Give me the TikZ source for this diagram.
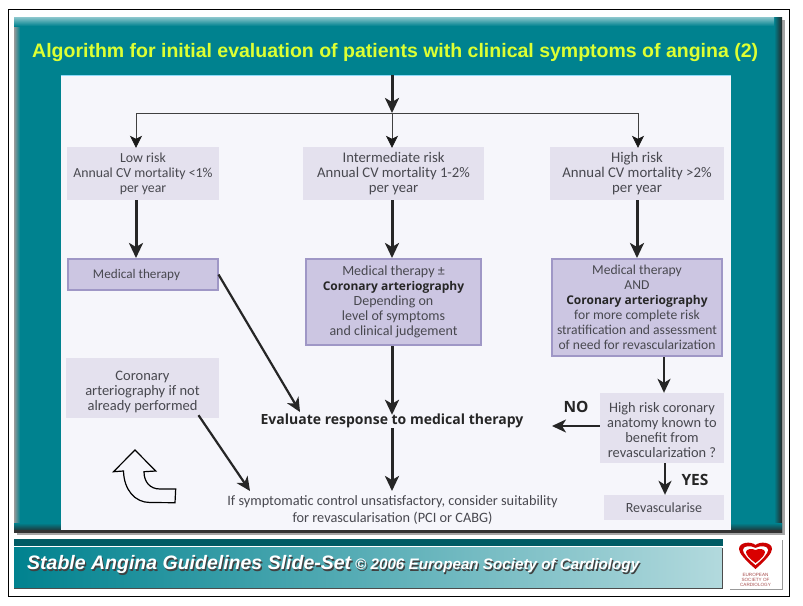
\documentclass[tikz,border=0pt]{standalone}
\usepackage{fontspec}
\setmainfont{Carlito}
\newfontfamily\headfont{Liberation Sans}
\newfontfamily\strongfont{Open Sans}
\usetikzlibrary{arrows.meta}
\definecolor{teal1}{HTML}{00828F}
\definecolor{panel}{HTML}{F6F6FB}
\definecolor{lilac}{HTML}{E4E1EE}
\definecolor{boxfill}{HTML}{CCC6E2}
\definecolor{boxline}{HTML}{9F97C6}
\definecolor{ink}{HTML}{48484F}
\definecolor{titley}{HTML}{DDFF33}
\newcommand{\shadowtext}[1]{\leavevmode\rlap{\raisebox{-1.2pt}{\hspace{1.2pt}\textcolor{black!75}{#1}}}\textcolor{white}{#1}}
\newcommand{\fs}[1]{\fontsize{#1}{15}\selectfont}
\newcommand{\strongtext}[1]{{\strongfont\bfseries\fontsize{12}{15}\selectfont\textcolor{black!85}{#1}}}
\tikzset{
 base/.style={inner sep=0pt,align=center,text=ink,font=\fontsize{14}{15}\selectfont},
 soft/.style={base,fill=lilac},
 strong/.style={base,fill=boxfill,draw=boxline,line width=2pt},
 label/.style={inner sep=0pt,text=black!85,font=\strongfont\bfseries\fontsize{15.5}{16}\selectfont},
 heavy/.style={line width=3pt,draw=black!85,-{Stealth[width=14pt,length=15pt,inset=4pt]}},
 medium/.style={line width=2.2pt,draw=black!85,-{Stealth[width=13pt,length=14pt,inset=4pt]}},
 thin arrow/.style={line width=.8pt,draw=black!75,-{Stealth[width=12pt,length=12pt,inset=3pt,color=black!90]}},
}
\begin{document}
\begin{tikzpicture}[x=1pt,y=-1pt]
\useasboundingbox (0,0) rectangle (803,605);
\fill[white] (0,0) rectangle (803,605);
\draw[black,line width=.9pt] (8.5,9.5) rectangle (789,596);
% slide panel
\fill[black!35] (17,20) rectangle (785,535);
\fill[teal1] (14,17) rectangle (782,532);
\shade[left color=teal1,right color=black!85] (774,17) rectangle (782,532);
\shade[left color=black!40,right color=teal1] (14,17) rectangle (20,530);
\shade[top color=teal1!45!white,bottom color=teal1] (14,17) rectangle (774,26);
\shade[top color=teal1,bottom color=black!85] (14,523) rectangle (782,532);
\fill[panel] (60.5,75) rectangle (731,530);
\draw[cyan!45!white,line width=.7pt] (60.5,75) -- (731,75);
\fill[black!80] (14,530) rectangle (782,532.5);
% footer
\fill[teal1!70!black] (14,539) rectangle (723,545.5);
\shade[left color=teal1,right color=teal1!30!white] (14,547.5) rectangle (722,588);
\draw[black!70,line width=1pt] (14,588.5) -- (722.5,588.5) -- (722.5,547.5);
\node[anchor=west,inner sep=0pt,font=\headfont\bfseries\itshape\fontsize{19.5}{20}\selectfont] (footer) at (27,565.5) {\shadowtext{Stable Angina Guidelines Slide-Set}};
\node[anchor=west,inner sep=0pt,font=\headfont\bfseries\itshape\fontsize{15.2}{16}\selectfont] (footerb) at (355,566.5) {\shadowtext{© 2006 European Society of Cardiology}};
% logo
\fill[white] (730,540) rectangle (782,590);
\draw[black!40,line width=.8pt] (730,589.5) -- (782,589.5) -- (782,540);
\fill[red!80!black] (755.5,569) .. controls (745,560) and (739,553) .. (739,549) .. controls (739,542) and (751,541) .. (755.5,545) .. controls (760,541) and (772,542) .. (772,549) .. controls (772,553) and (766,560) .. (755.5,569) -- cycle;
\fill[white] (755.5,565) .. controls (748,559) and (743,553) .. (743,550) .. controls (743,546) and (750,545) .. (755.5,548) .. controls (761,545) and (768,546) .. (768,550) .. controls (768,553) and (763,559) .. (755.5,565) -- cycle;
\fill[red!85!black] (755.5,563) .. controls (750,559) and (746,555) .. (746,552) .. controls (746,549) and (752,548) .. (755.5,550) .. controls (759,548) and (765,549) .. (765,552) .. controls (765,555) and (761,559) .. (755.5,563) -- cycle;
\node[inner sep=0pt,align=center,text=red!50!black!70,font=\headfont\fontsize{4.6}{5}\selectfont] (logotext) at (755.5,579.5) {EUROPEAN\\SOCIETY OF\\CARDIOLOGY};
% title
\node[anchor=west,inner sep=0pt,text=titley,font=\headfont\bfseries\fontsize{19.5}{20}\selectfont] (title) at (32,52.5) {Algorithm for initial evaluation of patients with clinical symptoms of angina (2)};
% boxes
\node[soft,minimum width=152pt,minimum height=53pt,font=\fs{13.8}] (low) at (143,173.5) {Low risk\\Annual CV mortality <1\%\\per year};
\node[soft,minimum width=181pt,minimum height=53pt,font=\fs{14.7}] (mid) at (393.5,173.5) {Intermediate risk\\Annual CV mortality 1-2\%\\per year};
\node[soft,minimum width=174pt,minimum height=53pt,font=\fs{14.8}] (high) at (637,173.5) {High risk\\Annual CV mortality >2\%\\per year};
\node[strong,minimum width=150pt,minimum height=31pt,font=\fs{13.2}] (lowbox) at (142.5,274.5) {Medical therapy\hspace*{12pt}};
\node[strong,minimum width=175pt,minimum height=86pt] (midbox) at (393.5,302) {Medical therapy ±\\\strongtext{Coronary arteriography}\\Depending on\\level of symptoms\\and clinical judgement};
\node[strong,minimum width=170pt,minimum height=97pt,font=\fs{13.6}] (highbox) at (637,307.5) {Medical therapy\\AND\\\strongtext{Coronary arteriography}\\for more complete risk\\stratification and assessment\\of need for revascularization};
\node[soft,minimum width=153pt,minimum height=60pt,font=\fs{14.5}] (cor) at (142.5,388) {\rule{0pt}{18pt}Coronary\\arteriography if not\\already performed};
\node[soft,minimum width=124pt,minimum height=70pt,font=\fs{14.4}] (q) at (662,428) {\rule{0pt}{14pt}High risk coronary\\anatomy known to\\benefit from\\revascularization ?};
\node[soft,minimum width=120pt,minimum height=25pt] (rev) at (664,507.5) {Revascularise};
\node[inner sep=0pt,text=black!85,font=\strongfont\bfseries\fontsize{14}{15}\selectfont] (eval) at (392,421) {Evaluate response to medical therapy};
\node[base,font=\fontsize{14.3}{17}\selectfont] (ifsym) at (392.5,510) {If symptomatic control unsatisfactory, consider suitability\\for revascularisation (PCI or CABG)};
\node[label] (no) at (576,407) {NO};
\node[label] (yes) at (695,480) {YES};
% connectors
\coordinate (top) at (392,75);
\coordinate (split) at (392,113);
\coordinate (lowin) at ([xshift=-7pt,yshift=-1pt]low.north);
\coordinate (midin) at ([xshift=-1.5pt,yshift=-1pt]mid.north);
\coordinate (highin) at ([xshift=1pt,yshift=-1pt]high.north);
\coordinate (evalin) at (300,412);
\coordinate (noend) at (552,426);
\draw[heavy] (top) -- (split);
\draw[line width=.8pt,draw=black!75] (lowin |- split) -- (highin |- split);
\draw[thin arrow] (lowin |- split) -- (lowin);
\draw[thin arrow] (split) -- (midin);
\draw[thin arrow] (highin |- split) -- (highin);
\draw[heavy] ([xshift=-7pt]low.south) -- ([xshift=-6.5pt]lowbox.north);
\draw[heavy] ([xshift=-1.5pt]mid.south) -- ([xshift=-1.5pt]midbox.north);
\draw[heavy] (high.south) -- (highbox.north);
\draw[medium] (lowbox.east) -- (evalin);
\draw[heavy] ([xshift=-1.5pt]midbox.south) -- ([yshift=-1pt]eval.north);
\draw[heavy] (eval.south) -- (392,491);
\draw[medium] ([xshift=56pt,yshift=3pt]cor.south) -- (250,491);
\draw[medium] ([xshift=27pt]highbox.south) -- ([xshift=2pt]q.north);
\draw[medium] (q.west |- noend) -- (noend);
\draw[medium] ([xshift=3pt]q.south) -- ([xshift=1pt]rev.north);
% hollow arrow
\draw[black,line width=1.2pt,fill=panel,line join=miter] (135,450) -- (113.5,471.7) -- (123.5,471) .. controls (124,490) and (135,502.5) .. (150,502.5) -- (175,502.7) -- (175.7,489) -- (160,489) .. controls (150,489) and (144,482) .. (144,471.7) -- (155.7,471) -- cycle;
\end{tikzpicture}
\end{document}
